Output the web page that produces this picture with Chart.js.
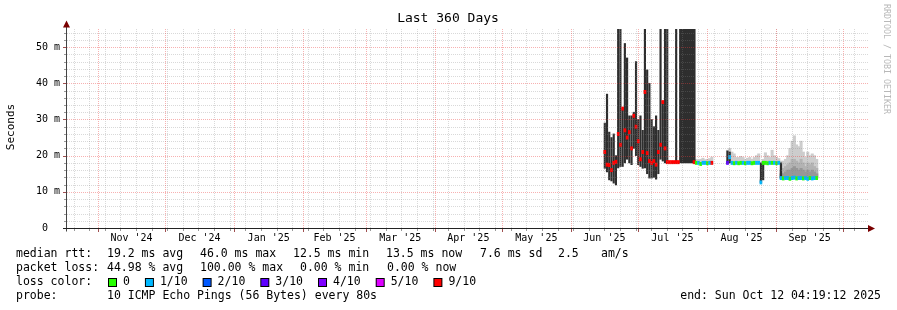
<!DOCTYPE html>
<html>
<head>
<meta charset="utf-8">
<title>Last 360 Days</title>
<script src="https://cdn.jsdelivr.net/npm/chart.js@4.4.1/dist/chart.umd.min.js"></script>
<style>
  html, body { margin: 0; padding: 0; background: #fff; }
  canvas { display: block; }
</style>
</head>
<body>
<canvas id="smokeChart" width="897" height="310"></canvas>
<script>
// x axis is "days since the start of the window" (Oct 17 2024 04:19 -> Oct 12 2025 04:19)
const monthStarts = [14.82, 44.82, 75.82, 106.82, 134.82, 165.82, 195.82, 226.82, 256.82, 287.82, 318.82, 348.82];
const monthLabels = ["Nov '24", "Dec '24", "Jan '25", "Feb '25", "Mar '25", "Apr '25", "May '25", "Jun '25", "Jul '25", "Aug '25", "Sep '25"];
const firstMonday = 3.82;
const yTicks = [0, 10, 20, 30, 40, 50];
const yTickLabels = ["0  ", "10 m", "20 m", "30 m", "40 m", "50 m"];

// median rtt (ms) and lost pings (of 10), one value per day from firstDay
const firstDay = 242;
const medianValues = [
  21, 17.5, 17.4, 16, 18, 18.3, 26, 23, 33, 27, 25, 26.5, 22, 31, 28, 24, 19, 21, 37.6, 20.7,
  18.5, 18, 18.5, 17.5, 21, 23, 34.8, 22, 18.2, 18.2, 18.2, 18.2, 18.2, 18.2,
  null, null, null, null, null, null,
  18.2,
  18.0, 18.0, 17.7, 18.0, 18.0, 17.9, 18.0, 18.0,
  null, null, null, null, null, null,
  18.0, 19.6, 18.0, 17.9, 18.0, 17.9, 18.0, 18.0, 17.9, 18.0, 18.0, 17.9, 18.0, 18.0, 18.0,
  12.6,
  18.0, 18.0, 17.9, 18.0, 18.0, 18.0, 17.9, 18.0,
  13.8, 13.7, 13.8, 13.8, 13.6, 13.8, 13.9, 13.7, 13.8, 13.8, 13.7, 13.8, 13.6, 13.8, 13.7, 13.8, 13.8
];
const medianLoss = [
  9, 9, 9, 9, 9, 9, 9, 9, 9, 9, 9, 9, 9, 9, 9, 9, 9, 9, 9, 9,
  9, 9, 9, 9, 9, 9, 9, 9, 9, 9, 9, 9, 9, 9,
  null, null, null, null, null, null,
  9,
  0, 1, 0, 1, 1, 0, 1, 9,
  null, null, null, null, null, null,
  3, 1, 1, 0, 1, 0, 0, 1, 0, 1, 1, 0, 0, 1, 1,
  1,
  0, 0, 0, 1, 0, 1, 0, 1,
  1, 0, 1, 1, 0, 1, 1, 0, 1, 1, 0, 1, 1, 0, 1, 1, 0
];

// dense smoke: min..max rtt of the day (ms)
const darkDays = [242, 243, 244, 245, 246, 247, 248, 249, 250, 251, 252, 253, 254, 255, 256, 257, 258, 259, 260, 261,
  262, 263, 264, 265, 266, 267, 268, 269, 270, 274, 297, 298, 312, 313, 321];
const darkLow = [16.5, 15.5, 13.3, 13, 12.4, 11.9, 16.6, 17, 17, 18, 19, 18, 17.5, 22, 20, 17.5, 17, 16.5, 16.6, 15,
  13.8, 13.8, 14, 13.5, 15, 19, 18.5, 18, 18, 18, 17.8, 18, 12.4, 13.3, 13.8];
const darkHigh = [29, 37, 26.5, 25, 26, 20, 60, 60, 33, 51, 47, 31, 31, 32, 46, 30, 31, 27, 60, 43.7,
  40, 30, 28, 31, 27, 60, 35, 60, 60, 60, 21.3, 21, 18, 18, 18];

// the solid block of early July (ms)
const blockDays = [276, 277, 278, 279, 280, 281, 282];
const blockLow = [18, 18, 18, 18, 18, 18, 18];
const blockHigh = [60, 60, 60, 60, 60, 60, 60];

// light smoke: top of the ping spread (ms)
const smokeDays = [283, 284, 285, 286, 287, 288, 289, 290,
  297, 298, 299, 300, 301, 302, 303, 304, 305, 306, 307, 308, 309, 310, 311, 312,
  313, 314, 315, 316, 317, 318, 319, 320,
  321, 322, 323, 324, 325, 326, 327, 328, 329, 330, 331, 332, 333, 334, 335, 336, 337];
const smokeTop = [19.0, 18.8, 19.0, 19.3, 18.9, 19.0, 19.2, 19.6,
  21.5, 22.0, 21.0, 20.5, 19.5, 19.5, 19.8, 19.5, 19.0, 19.3, 19.5, 19.0, 19.5, 20.0, 20.5, 13.5,
  19.0, 20.8, 20.0, 19.5, 21.5, 20.0, 19.5, 19.2,
  18.5, 18.5, 19.0, 20.0, 22.0, 24.0, 25.5, 23.0, 22.5, 24.0, 21.0, 19.5, 21.0, 20.0, 20.5, 20.0, 19.0];

// inner smoke layers for the last weeks (ms)
const layerDays = [321, 322, 323, 324, 325, 326, 327, 328, 329, 330, 331, 332, 333, 334, 335, 336, 337];
const layerMid = [16, 16.5, 17, 17.5, 18, 19, 19, 18.5, 18, 19, 18, 17, 18, 17.5, 18, 17, 16.5];
const layerLow = [15, 15, 15.5, 16, 16, 16.5, 17, 16.5, 16, 16.5, 16, 15.5, 16, 15.5, 16, 15.5, 15];

const lossSteps = [0, 1, 2, 3, 4, 5, 9];
const lossLabels = ["0", "1/10", "2/10", "3/10", "4/10", "5/10", "9/10"];
const lossColors = ["#26ff00", "#00b8ff", "#0059ff", "#5e00ff", "#7e00ff", "#dd00ff", "#ff0000"];

const rttStats = ["19.2 ms avg", "46.0 ms max", "12.5 ms min", "13.5 ms now", "7.6 ms sd", "2.5", "am/s"];
const lossStats = ["44.98 % avg", "100.00 % max", "0.00 % min", "0.00 % now"];
const probeText = "10 ICMP Echo Pings (56 Bytes) every 80s";
const endText = "end: Sun Oct 12 04:19:12 2025";

const MONO = '"DejaVu Sans Mono", "Liberation Mono", monospace';

function lossColor(n) {
  let c = lossColors[0];
  lossSteps.forEach((s, i) => { if (n >= s) c = lossColors[i]; });
  return c;
}
const medianAt = d => medianValues[d - firstDay];

const medianPoints = [];
const medianColors = [];
medianValues.forEach((v, i) => {
  if (v === null) return;
  medianPoints.push({ x: firstDay + i, y: [v - 0.45, v + 0.45] });
  medianColors.push(lossColor(medianLoss[i]));
});
const darkPoints = darkDays.map((d, i) => ({ x: d, y: [darkLow[i], darkHigh[i]] }));
const blockPoints = blockDays.map((d, i) => ({ x: d, y: [blockLow[i], blockHigh[i]] }));
const lightPoints = smokeDays.map((d, i) => ({ x: d, y: [medianAt(d), smokeTop[i]] }));
const midPoints = layerDays.map((d, i) => ({ x: d, y: [medianAt(d), layerMid[i]] }));
const lowPoints = layerDays.map((d, i) => ({ x: d, y: [medianAt(d), layerLow[i]] }));

function hLine(ctx, x1, x2, y, color) {
  ctx.strokeStyle = color;
  ctx.beginPath(); ctx.moveTo(x1, y); ctx.lineTo(x2, y); ctx.stroke();
}
function vLine(ctx, x, y1, y2, color) {
  ctx.strokeStyle = color;
  ctx.beginPath(); ctx.moveTo(x, y1); ctx.lineTo(x, y2); ctx.stroke();
}

// rrdtool look: dotted grid, arrows, labels and the legend block
const rrdFrame = {
  id: 'rrdFrame',
  afterDatasetsDraw(chart) {
    const { ctx, chartArea: a, scales: { x, y } } = chart;
    const minorColor = 'rgba(130,130,130,0.3)';
    const majorColor = 'rgba(235,60,60,0.4)';
    ctx.save();
    ctx.lineWidth = 1;
    ctx.setLineDash([1, 1]);
    for (let v = 2; v < 55; v += 2) {
      if (v % 10 === 0) continue;
      hLine(ctx, a.left, a.right, Math.round(y.getPixelForValue(v)) + 0.5, minorColor);
    }
    for (let d = firstMonday; d < 360; d += 7) {
      vLine(ctx, Math.round(x.getPixelForValue(d)) + 0.5, a.top, a.bottom, minorColor);
    }
    yTicks.forEach(v => {
      if (v === 0) return;
      hLine(ctx, a.left, a.right, Math.round(y.getPixelForValue(v)) + 0.5, majorColor);
    });
    monthStarts.forEach(d => {
      vLine(ctx, Math.round(x.getPixelForValue(d)) + 0.5, a.top, a.bottom, majorColor);
    });
    ctx.setLineDash([]);

    // tick marks
    for (let v = 2; v < 55; v += 2) {
      const py = Math.round(y.getPixelForValue(v)) + 0.5;
      ctx.strokeStyle = v % 10 === 0 ? '#a05050' : '#999';
      ctx.beginPath(); ctx.moveTo(v % 10 === 0 ? 63 : 64, py); ctx.lineTo(66, py); ctx.stroke();
    }
    for (let d = firstMonday; d < 360; d += 7) {
      const px = Math.round(x.getPixelForValue(d)) + 0.5;
      vLine(ctx, px, a.bottom + 1, a.bottom + 3, '#999');
    }
    monthStarts.forEach(d => {
      const px = Math.round(x.getPixelForValue(d)) + 0.5;
      vLine(ctx, px, a.bottom + 1, a.bottom + 4, '#a05050');
    });

    // axes and arrows
    const ax = 66.5, ay = Math.round(y.getPixelForValue(0)) + 0.5;
    vLine(ctx, ax, ay + 3, 27, '#444');
    hLine(ctx, 63, 868, ay, '#222');
    ctx.fillStyle = '#7a0000';
    ctx.beginPath(); ctx.moveTo(ax, 20.5); ctx.lineTo(ax - 3.5, 27.5); ctx.lineTo(ax + 3.5, 27.5); ctx.closePath(); ctx.fill();
    ctx.beginPath(); ctx.moveTo(875, ay); ctx.lineTo(868, ay - 3.5); ctx.lineTo(868, ay + 3.5); ctx.closePath(); ctx.fill();

    // axis labels
    ctx.fillStyle = '#000';
    ctx.font = '10px ' + MONO;
    ctx.textBaseline = 'middle';
    ctx.textAlign = 'right';
    yTicks.forEach((v, i) => ctx.fillText(yTickLabels[i], 60, y.getPixelForValue(v)));
    ctx.textAlign = 'center';
    monthLabels.forEach((lab, i) => {
      const mid = (monthStarts[i] + monthStarts[i + 1]) / 2;
      ctx.fillText(lab, x.getPixelForValue(mid), 238);
    });
    ctx.restore();
  },
  afterDraw(chart) {
    const { ctx } = chart;
    ctx.save();
    ctx.fillStyle = '#000';
    ctx.textBaseline = 'middle';

    ctx.font = '13px ' + MONO;
    ctx.textAlign = 'center';
    ctx.fillText('Last 360 Days', 448, 19);

    ctx.font = '11px ' + MONO;
    ctx.save();
    ctx.translate(11, 127);
    ctx.rotate(-Math.PI / 2);
    ctx.fillText('Seconds', 0, 0);
    ctx.restore();

    ctx.save();
    ctx.font = '8.3px ' + MONO;
    ctx.fillStyle = '#b8b8b8';
    ctx.textAlign = 'left';
    ctx.translate(886, 4);
    ctx.rotate(Math.PI / 2);
    ctx.fillText('RRDTOOL / TOBI OETIKER', 0, 0);
    ctx.restore();

    ctx.font = '11.5px ' + MONO;
    ctx.textAlign = 'left';
    const rows = [254, 268, 282, 296];
    ctx.fillText('median rtt:', 16, rows[0]);
    [107, 200, 293, 386, 480, 558, 601].forEach((cx, i) => ctx.fillText(rttStats[i], cx, rows[0]));
    ctx.fillText('packet loss:', 16, rows[1]);
    [107, 200, 300, 387].forEach((cx, i) => ctx.fillText(lossStats[i], cx, rows[1]));
    ctx.fillText('loss color:', 16, rows[2]);
    let bx = 108;
    lossLabels.forEach((lab, i) => {
      ctx.fillStyle = '#000';
      ctx.fillRect(bx, rows[2] - 4, 9, 9);
      ctx.fillStyle = lossColors[i];
      ctx.fillRect(bx + 1, rows[2] - 3, 7, 7);
      ctx.fillStyle = '#000';
      ctx.fillText(lab, bx + 15, rows[2]);
      bx += 15 + ctx.measureText(lab).width + 15;
    });
    ctx.fillText('probe:', 16, rows[3]);
    ctx.fillText(probeText, 107, rows[3]);
    ctx.textAlign = 'right';
    ctx.fillText(endText, 881, rows[3]);
    ctx.restore();
  }
};

const barBase = { grouped: false, barThickness: 2.4, borderWidth: 0 };

new Chart(document.getElementById('smokeChart').getContext('2d'), {
  type: 'bar',
  data: {
    datasets: [
      { ...barBase, label: 'median', data: medianPoints, backgroundColor: medianColors, barThickness: 2, order: 0 },
      { ...barBase, label: 'dense smoke', data: darkPoints, backgroundColor: '#2e2e2e', barThickness: 1.5, order: 1 },
      { ...barBase, label: 'dense block', data: blockPoints, backgroundColor: '#2e2e2e', order: 1 },
      { ...barBase, label: 'smoke 3', data: lowPoints, backgroundColor: '#979797', order: 2 },
      { ...barBase, label: 'smoke 2', data: midPoints, backgroundColor: '#b3b3b3', order: 3 },
      { ...barBase, label: 'smoke 1', data: lightPoints, backgroundColor: '#cdcdcd', order: 4 }
    ]
  },
  options: {
    responsive: false,
    animation: false,
    events: [],
    layout: { padding: { left: 65, top: 29, right: 29, bottom: 82 } },
    plugins: { legend: { display: false }, tooltip: { enabled: false } },
    scales: {
      x: { type: 'linear', min: 0, max: 360, offset: false, display: false },
      y: { min: 0, max: 55, display: false }
    }
  },
  plugins: [rrdFrame]
});
</script>
</body>
</html>
